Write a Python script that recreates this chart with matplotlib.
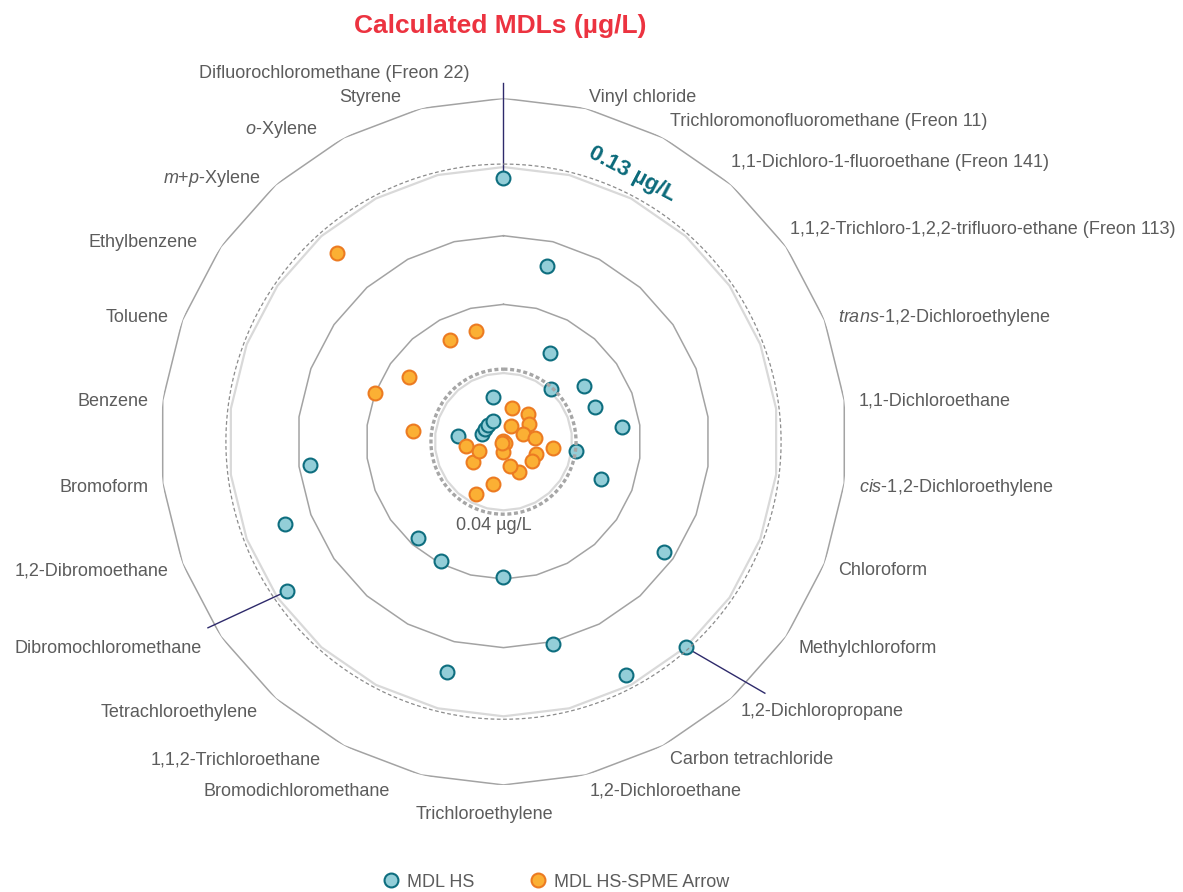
import numpy as np
import matplotlib.pyplot as plt
from matplotlib.lines import Line2D

plt.rcParams['font.family'] = ['Liberation Sans', 'DejaVu Sans']
plt.rcParams['mathtext.fontset'] = 'custom'
plt.rcParams['mathtext.rm'] = 'Liberation Sans'
plt.rcParams['mathtext.it'] = 'Liberation Sans:italic'

compounds = [
    'Difluorochloromethane (Freon 22)', 'Vinyl chloride',
    'Trichloromonofluoromethane (Freon 11)', '1,1-Dichloro-1-fluoroethane (Freon 141)',
    '1,1,2-Trichloro-1,2,2-trifluoro-ethane (Freon 113)', r'$trans$-1,2-Dichloroethylene',
    '1,1-Dichloroethane', r'$cis$-1,2-Dichloroethylene', 'Chloroform', 'Methylchloroform',
    '1,2-Dichloropropane', 'Carbon tetrachloride', '1,2-Dichloroethane', 'Trichloroethylene',
    'Bromodichloromethane', '1,1,2-Trichloroethane', 'Tetrachloroethylene',
    'Dibromochloromethane', '1,2-Dibromoethane', 'Bromoform', 'Benzene', 'Toluene',
    'Ethylbenzene', r'$m$+$p$-Xylene', r'$o$-Xylene', 'Styrene',
]

# MDL values (ug/L)
mdl_hs = [0.125, 0.089, 0.054, 0.041, 0.053, 0.053, 0.062, 0.042, 0.0555, 0.095,
          0.130, 0.125, 0.101, 0.069, 0.1135, 0.069, 0.0665, 0.125, 0.112, 0.095,
          0.030, 0.020, 0.020, 0.020, 0.020, 0.030]
mdl_spme = [0.0105, 0.025, 0.0175, 0.026, 0.0235, 0.019, 0.024, 0.032, 0.025, 0.025,
            0.011, 0.025, 0.021, 0.0144, 0.029, 0.036, 0.011, 0.026, 0.0215, 0.0265,
            0.050, 0.070, 0.060, 0.120, 0.060, 0.060]

ring_values = [0.04, 0.07, 0.10, 0.13, 0.16]
r_min, r_max = 0.01, 0.16
r_lab = 0.1664

# nudges for the labels (pixels, dy positive = down)
label_dx = [-34, 0, 0, -10, -8, 0, 0, 0, 0, 0, 0, 0, 0, -19,
            -28, -16, -8, -7, 0, 0, 0, 0, -11, -5, -20, -17]
label_dy = [-10, 3, -3, -11, -9, 3, 2, 3, 2, 3, 2, 1, 2, 15,
            2, 1, 3, 3, 2, 3, 3, 3, 4, 5, 5, 3]

gray_txt = '#5c5c5c'
n = len(compounds)
theta = np.arange(n) * 2 * np.pi / n

fig = plt.figure(figsize=(11.83, 8.92), dpi=100)
ax = fig.add_axes([0.1354, 0.1200, 0.5804, 0.7697], projection='polar')
ax.set_theta_zero_location('N')
ax.set_theta_direction(-1)
ax.set_ylim(r_min, r_max)
ax.set_xticks([])
ax.set_yticks([])
ax.grid(False)
ax.spines['polar'].set_visible(False)

# polygon rings
th_closed = np.append(theta, theta[0])
for v in ring_values:
    if v in (0.04, 0.13):
        ax.plot(th_closed, [v] * (n + 1), color='#d9d9d9', lw=1.6, zorder=1)
    else:
        ax.plot(th_closed, [v] * (n + 1), color='#a3a3a3', lw=1.1, zorder=1)

# dashed reference circles
circ = np.linspace(0, 2 * np.pi, 400)
ax.plot(circ, [0.1313] * len(circ), color='#8c8c8c', lw=0.9, ls=(0, (3, 2)), zorder=5)
ax.plot(circ, [0.0417] * len(circ), color='#a6a6a6', lw=2.4, ls=(0, (1.2, 0.8)), zorder=5)

# leader lines
ax.plot([theta[0], theta[0]], [mdl_hs[0], 0.1667], color='#2e2a6b', lw=1, zorder=2, clip_on=False)
ax.plot([theta[10], np.radians(133.9)], [mdl_hs[10], 0.1685], color='#2e2a6b', lw=1, zorder=2, clip_on=False)
ax.plot([theta[17], np.radians(237.8)], [mdl_hs[17], 0.1626], color='#2e2a6b', lw=1, zorder=2, clip_on=False)

hs_style = dict(ls='none', marker='o', ms=10, mfc='#93ced8', mec='#0e6e7f', mew=1.5)
sp_style = dict(ls='none', marker='o', ms=10, mfc='#fbb034', mec='#ec7b22', mew=1.5)
ax.plot(theta, mdl_hs, zorder=3, **hs_style)
ax.plot(theta, mdl_spme, zorder=4, **sp_style)

# category labels
for i, (t, name) in enumerate(zip(theta, compounds)):
    deg = np.degrees(t)
    if i == 0:
        ha = 'right'
    elif i == 13:
        ha = 'center'
    elif deg < 180:
        ha = 'left'
    else:
        ha = 'right'
    ax.annotate(name, xy=(t, r_lab), xytext=(label_dx[i], -label_dy[i]),
                textcoords='offset pixels', ha=ha, va='center', fontsize=13,
                color=gray_txt, annotation_clip=False)

ax.text(np.radians(25.6), 0.1398, '0.13 µg/L', rotation=-28, rotation_mode='anchor',
        ha='center', va='center', fontsize=16, fontweight='bold', color='#0b6a7a')
ax.text(np.radians(186.9), 0.0469, '0.04 µg/L', ha='center', va='center',
        fontsize=13, color=gray_txt)

fig.text(0.4227, 0.971, 'Calculated MDLs (µg/L)', ha='center', va='center',
         fontsize=19, fontweight='bold', color='#ec3340')

handles = [Line2D([], [], **hs_style), Line2D([], [], **sp_style)]
fig.legend(handles, ['MDL HS', 'MDL HS-SPME Arrow'], loc='center',
           bbox_to_anchor=(0.4696, 0.0112), ncol=2, frameon=False, fontsize=13,
           handlelength=1, handletextpad=0.4, columnspacing=3.0, labelcolor=gray_txt)

fig.savefig('out.png', dpi=100)
